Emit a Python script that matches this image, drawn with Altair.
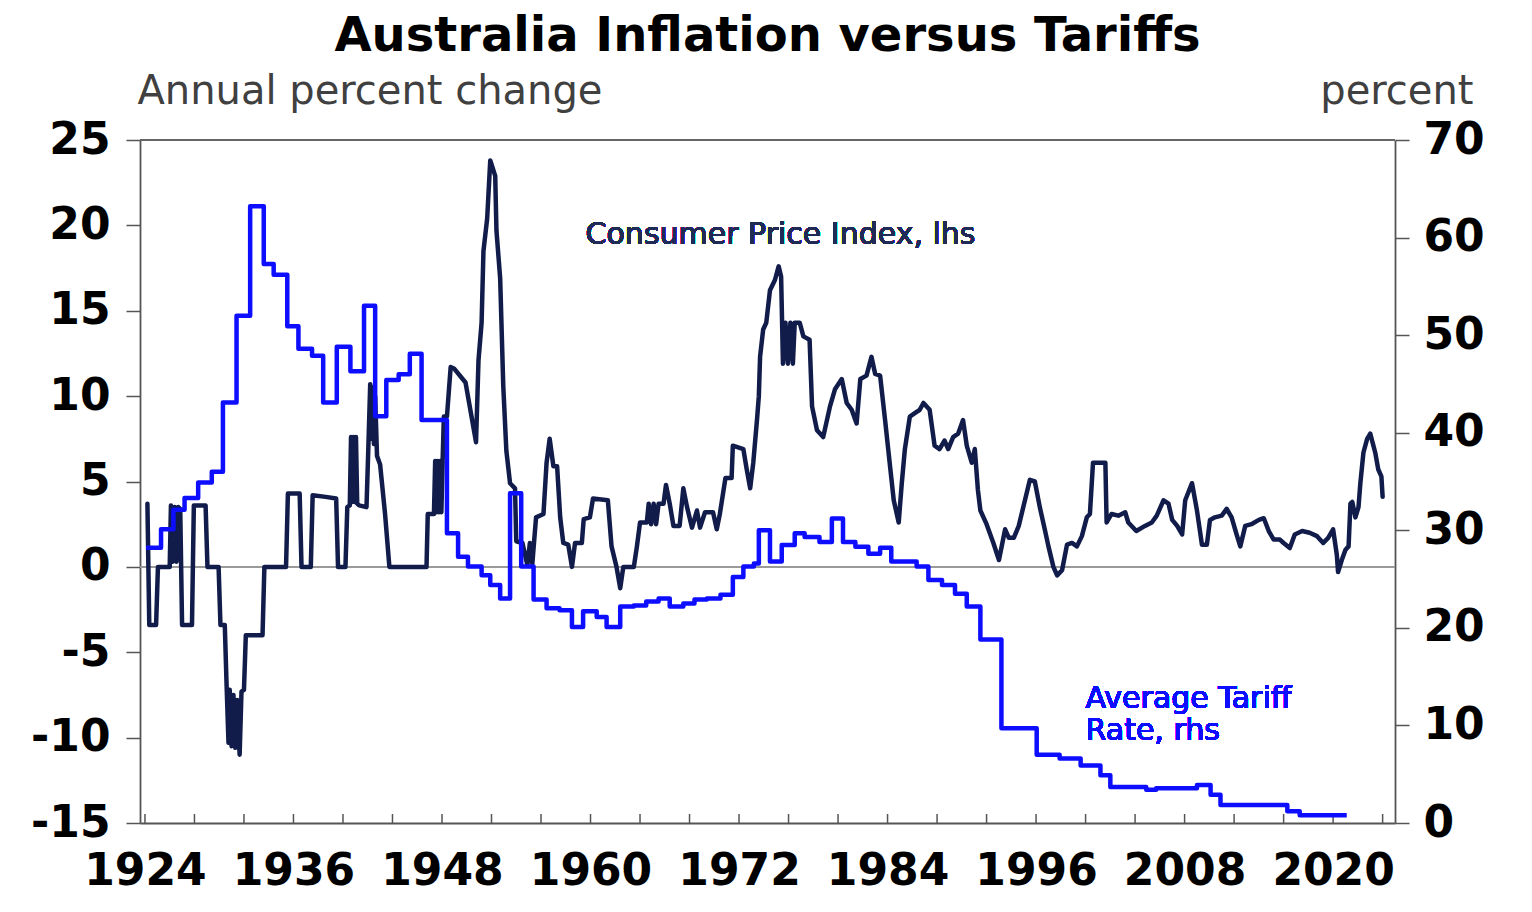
import altair as alt
import pandas as pd

# ---------------- data ----------------
cpi_years = [
    1924.2, 1924.35, 1924.9, 1925.05, 1926.0, 1926.1, 1926.25, 1926.4, 1926.55, 1926.7,
    1926.85, 1927.0, 1927.8, 1927.95, 1928.9, 1929.05, 1929.95, 1930.1, 1930.45, 1930.6,
    1930.75, 1930.85, 1931.0, 1931.15, 1931.3, 1931.45, 1931.65, 1931.8, 1932.0, 1932.15,
    1933.5, 1933.65, 1935.4, 1935.55, 1936.5, 1936.65, 1937.4, 1937.55, 1938.6, 1939.45,
    1939.6, 1940.2, 1940.35, 1940.55, 1940.65, 1940.75, 1940.85, 1940.95, 1941.05, 1941.15,
    1941.3, 1941.9, 1942.05, 1942.2, 1942.3, 1942.4, 1942.5, 1942.6, 1942.75, 1943.0,
    1943.4, 1943.75, 1946.75, 1946.85, 1947.35, 1947.45, 1947.55, 1947.65, 1947.75, 1947.85,
    1947.95, 1948.05, 1948.15, 1948.4, 1948.7, 1949.0, 1949.9, 1950.75, 1950.95, 1951.2,
    1951.35, 1951.65, 1951.9, 1952.3, 1952.4, 1952.7, 1952.95, 1953.2, 1953.5, 1953.9,
    1954.0, 1954.5, 1954.9, 1955.1, 1955.3, 1955.6, 1956.2, 1956.45, 1956.7, 1957.0,
    1957.3, 1957.55, 1957.8, 1958.2, 1958.5, 1958.75, 1959.3, 1959.45, 1959.95, 1960.2,
    1961.4, 1961.7, 1962.1, 1962.4, 1962.65, 1963.5, 1963.75, 1964.0, 1964.55, 1964.7,
    1964.9, 1965.1, 1965.3, 1965.5, 1965.9, 1966.1, 1966.4, 1966.7, 1967.2, 1967.5,
    1967.8, 1968.2, 1968.6, 1968.85, 1969.25, 1969.9, 1970.2, 1970.45, 1970.9, 1971.4,
    1971.5, 1972.35, 1972.6, 1972.9, 1973.15, 1973.45, 1973.6, 1973.7, 1973.95, 1974.2,
    1974.5, 1974.9, 1975.2, 1975.4, 1975.55, 1975.75, 1975.95, 1976.15, 1976.35, 1976.5,
    1976.9, 1977.2, 1977.7, 1977.9, 1978.3, 1978.8, 1979.35, 1979.75, 1980.3, 1980.7,
    1981.1, 1981.5, 1981.8, 1982.3, 1982.7, 1983.0, 1983.4, 1983.8, 1984.2, 1984.5,
    1984.9, 1985.15, 1985.4, 1985.8, 1986.2, 1986.6, 1986.9, 1987.4, 1987.8, 1988.2,
    1988.6, 1988.9, 1989.3, 1989.7, 1990.1, 1990.4, 1990.8, 1991.05, 1991.3, 1991.5,
    1992.0, 1992.55, 1993.0, 1993.5, 1993.8, 1994.2, 1994.6, 1995.1, 1995.5, 1995.9,
    1996.3, 1996.7, 1997.0, 1997.4, 1997.7, 1998.1, 1998.5, 1998.9, 1999.3, 1999.7,
    2000.1, 2000.35, 2000.6, 2001.6, 2001.7, 2002.1, 2002.65, 2003.2, 2003.45, 2004.1,
    2004.8, 2005.35, 2005.75, 2006.3, 2006.7, 2007.0, 2007.4, 2007.8, 2008.05, 2008.6,
    2009.0, 2009.4, 2009.8, 2010.05, 2010.45, 2011.0, 2011.4, 2011.8, 2012.2, 2012.5,
    2012.9, 2013.4, 2014.0, 2014.4, 2014.8, 2015.2, 2015.7, 2016.0, 2016.5, 2016.9,
    2017.5, 2018.1, 2018.7, 2019.2, 2019.6, 2020.0, 2020.3, 2020.4, 2020.7, 2021.0,
    2021.25, 2021.4, 2021.55, 2021.8, 2022.05, 2022.2, 2022.45, 2022.75, 2023.0, 2023.4,
    2023.65, 2023.9, 2024.0,
]
cpi_values = [
    3.7, -3.4, -3.4, 0.0, 0.0, 3.6, 0.3, 3.5, 0.3, 3.5,
    3.4, -3.4, -3.4, 3.6, 3.6, 0.0, 0.0, -3.4, -3.4, -7.0,
    -10.3, -7.2, -10.5, -7.5, -10.6, -7.8, -11.0, -7.3, -7.2, -4.0,
    -4.0, 0.0, 0.0, 4.3, 4.3, 0.0, 0.0, 4.2, 4.1, 4.0,
    0.0, 0.0, 3.5, 3.6, 7.6, 3.8, 7.6, 3.8, 7.6, 3.7,
    3.6, 3.5, 7.0, 10.7, 7.5, 10.5, 7.2, 10.0, 6.5, 6.0,
    3.1, 0.0, 0.0, 3.1, 3.1, 6.2, 3.2, 6.2, 3.2, 6.2,
    3.2, 6.2, 8.8, 8.8, 11.7, 11.6, 10.8, 7.3, 12.1, 14.3,
    18.5, 20.4, 23.8, 22.9, 19.7, 16.9, 10.6, 6.8, 4.9, 4.6,
    1.5, 1.4, 0.1, 1.4, 0.2, 2.9, 3.1, 6.1, 7.5, 5.9,
    5.9, 2.9, 1.4, 1.3, 0.0, 1.4, 1.4, 2.8, 2.9, 4.0,
    3.9, 1.2, 0.0, -1.25, 0.0, 0.0, 1.2, 2.6, 2.6, 3.7,
    2.5, 3.7, 2.5, 3.7, 3.7, 4.8, 3.7, 2.4, 2.4, 4.6,
    3.5, 2.3, 3.3, 2.3, 3.2, 3.2, 2.2, 3.1, 5.2, 5.2,
    7.1, 6.9, 5.8, 4.6, 6.1, 8.6, 10.0, 12.3, 13.9, 14.3,
    16.2, 16.8, 17.6, 17.0, 11.9, 14.3, 11.9, 14.3, 11.9, 14.3,
    14.3, 13.5, 13.3, 9.4, 8.0, 7.6, 9.4, 10.4, 11.0, 9.6,
    9.2, 8.4, 11.0, 11.2, 12.3, 11.3, 11.2, 8.6, 5.9, 3.9,
    2.6, 4.9, 6.9, 8.8, 9.0, 9.2, 9.6, 9.2, 7.1, 6.9,
    7.4, 6.9, 7.6, 7.8, 8.6, 7.1, 6.1, 6.9, 4.5, 3.3,
    2.5, 1.4, 0.4, 2.2, 1.7, 1.7, 2.4, 3.9, 5.1, 5.0,
    3.5, 2.2, 1.2, 0.0, -0.5, -0.2, 1.3, 1.4, 1.2, 1.8,
    2.9, 3.1, 6.1, 6.1, 2.6, 3.1, 3.0, 3.2, 2.6, 2.1,
    2.4, 2.6, 3.0, 3.9, 3.7, 2.75, 2.4, 1.9, 3.9, 4.9,
    3.3, 1.3, 1.3, 2.75, 2.9, 3.0, 3.4, 2.9, 1.9, 1.2,
    2.4, 2.5, 2.75, 2.85, 2.1, 1.6, 1.6, 1.4, 1.1, 1.9,
    2.1, 2.0, 1.8, 1.4, 1.7, 2.2, 0.7, -0.3, 0.4, 1.0,
    1.2, 3.7, 3.8, 2.9, 3.5, 4.9, 6.7, 7.5, 7.8, 6.7,
    5.7, 5.3, 4.1,
]

tariff_years = [
    1924.1, 1925.3, 1926.3, 1927.2, 1928.3, 1929.4, 1930.3, 1931.4, 1932.5, 1933.6,
    1934.4, 1935.5, 1936.4, 1937.5, 1938.4, 1939.5, 1940.6, 1941.7, 1942.6, 1943.5,
    1944.5, 1945.4, 1946.35, 1948.4, 1949.3, 1950.1, 1951.2, 1951.9, 1952.7, 1953.5,
    1954.4, 1955.4, 1956.45, 1957.5, 1958.5, 1959.4, 1960.5, 1961.3, 1962.4, 1963.5,
    1964.5, 1965.5, 1966.4, 1967.5, 1968.4, 1969.4, 1970.5, 1971.5, 1972.35, 1973.2,
    1973.6, 1974.5, 1975.45, 1976.5, 1977.3, 1978.5, 1979.5, 1980.4, 1981.4, 1982.45,
    1983.4, 1984.3, 1986.35, 1987.3, 1988.4, 1989.45, 1990.4, 1991.5, 1993.2, 1996.05,
    1997.9, 1999.6, 2001.2, 2002.0, 2004.9, 2005.7, 2009.0, 2010.1, 2010.9, 2016.3,
    2017.3, 2021.1,
]
tariff_values = [
    28.2, 30.1, 32.1, 33.3, 34.9, 36.0, 43.1, 52.0, 63.2, 57.3,
    56.2, 50.9, 48.6, 47.9, 43.1, 48.8, 46.3, 53.0, 41.7, 45.4,
    46.0, 48.1, 41.3, 29.7, 27.3, 26.3, 25.4, 24.4, 23.0, 33.8,
    26.3, 22.9, 22.0, 21.8, 20.1, 21.7, 21.1, 20.1, 22.2, 22.3,
    22.7, 23.0, 22.2, 22.5, 22.9, 23.0, 23.4, 25.2, 26.3, 26.6,
    30.0, 26.8, 28.5, 29.7, 29.3, 28.8, 31.2, 28.8, 28.3, 27.6,
    28.2, 26.8, 26.3, 24.9, 24.4, 23.5, 22.2, 18.8, 9.7, 7.0,
    6.6, 5.9, 4.9, 3.7, 3.4, 3.55, 3.9, 2.9, 1.85, 1.2,
    0.8, 0.8,
]

x_label_years = [1924, 1936, 1948, 1960, 1972, 1984, 1996, 2008, 2020]
x_minor_tick_years = list(range(1924, 2025, 4))
lhs_ticks = [-15, -10, -5, 0, 5, 10, 15, 20, 25]
rhs_ticks = [0, 10, 20, 30, 40, 50, 60, 70]

label_texts = ["Consumer Price Index, lhs", "Average Tariff\nRate, rhs"]
label_years = [1959.6, 2000.0]
label_values = [18.9, 11.8]

# ---------------- styling ----------------
NAVY = "#111c4b"
BLUE = "#0d0dff"
AXIS_GREY = "#555555"
W, H = 1255, 683
BOLD_FONT = "DejaVu Sans"
REG_FONT = "DejaVu Sans"
HYPHEN_LABEL = "datum.value < 0 ? '-' + abs(datum.value) : '' + datum.value"

cpi_df = pd.DataFrame({"year": cpi_years, "cpi": cpi_values})
tariff_df = pd.DataFrame({"year": tariff_years, "tariff": tariff_values})
tick_df = pd.DataFrame({"year": x_minor_tick_years})

x_scale = alt.Scale(domain=[1923.6, 2025.0], nice=False, zero=False)
x_enc = alt.X(
    "year:Q",
    scale=x_scale,
    axis=alt.Axis(
        values=x_label_years, format="d", title=None, grid=False,
        labelFont=BOLD_FONT, labelFontSize=44, labelFontWeight="bold",
        labelColor="black", labelPadding=26, tickSize=0, labelFlush=False,
        labelOverlap=False, domainColor=AXIS_GREY, domainWidth=1.8,
    ),
)

cpi_line = alt.Chart(cpi_df).mark_line(
    color=NAVY, strokeWidth=4.5, strokeJoin="round", strokeCap="round"
).encode(
    x=x_enc,
    y=alt.Y(
        "cpi:Q",
        scale=alt.Scale(domain=[-15, 25], nice=False, zero=False),
        axis=alt.Axis(
            orient="left", values=lhs_ticks, grid=False, labelExpr=HYPHEN_LABEL,
            title="Annual percent change", titleAngle=0, titleAlign="left",
            titleBaseline="alphabetic", titleX=-3, titleY=-37,
            titleFont=REG_FONT, titleFontSize=40, titleFontWeight="normal",
            titleColor="#404040",
            labelFont=BOLD_FONT, labelFontSize=44, labelFontWeight="bold",
            labelColor="black", labelPadding=16, tickSize=14,
            tickColor=AXIS_GREY, tickWidth=1.5,
            domainColor=AXIS_GREY, domainWidth=1.8,
        ),
    ),
)

zero_rule = alt.Chart(cpi_df).mark_rule(color="#9a9a9a", strokeWidth=1.3).encode(
    y=alt.datum(0)
)

top_border = alt.Chart(cpi_df).mark_rule(color="#666666", strokeWidth=2).encode(
    y=alt.datum(25)
)

minor_ticks = alt.Chart(tick_df).mark_rule(color=AXIS_GREY, strokeWidth=1.5).encode(
    x=alt.X("year:Q", scale=x_scale),
    y=alt.value(H),
    y2=alt.value(H - 9),
)

cpi_label = alt.Chart(cpi_df).mark_text(
    text=label_texts[0], align="left", baseline="alphabetic",
    font=REG_FONT, fontSize=30, color="#1f2a57",
).encode(x=alt.datum(label_years[0]), y=alt.datum(label_values[0]))

left = alt.layer(zero_rule, top_border, minor_ticks, cpi_line, cpi_label)

tariff_line = alt.Chart(tariff_df).mark_line(
    color=BLUE, strokeWidth=4.5, interpolate="step-after", strokeJoin="round"
).encode(
    x=alt.X("year:Q", scale=x_scale),
    y=alt.Y(
        "tariff:Q",
        scale=alt.Scale(domain=[0, 70], nice=False, zero=False),
        axis=alt.Axis(
            orient="right", values=rhs_ticks, grid=False,
            title="percent", titleAngle=0, titleAlign="right",
            titleBaseline="alphabetic", titleX=78, titleY=-37,
            titleFont=REG_FONT, titleFontSize=40, titleFontWeight="normal",
            titleColor="#404040",
            labelFont=BOLD_FONT, labelFontSize=44, labelFontWeight="bold",
            labelColor="black", labelPadding=14, tickSize=14,
            tickColor=AXIS_GREY, tickWidth=1.5,
            domainColor=AXIS_GREY, domainWidth=1.8,
        ),
    ),
)

tariff_label = alt.Chart(tariff_df).mark_text(
    text=label_texts[1], lineBreak="\n", lineHeight=32, align="left",
    baseline="alphabetic", font=REG_FONT, fontSize=30, color=BLUE,
).encode(x=alt.datum(label_years[1]), y=alt.datum(label_values[1]))

right = alt.layer(tariff_line, tariff_label)

chart = (
    alt.layer(left, right)
    .resolve_scale(y="independent")
    .properties(
        width=W,
        height=H,
        autosize=alt.AutoSizeParams(type="none"),
        padding={"left": 132, "top": 132, "right": 129, "bottom": 81},
        title=alt.TitleParams(
            "Australia Inflation versus Tariffs",
            font=BOLD_FONT, fontSize=48, fontWeight="bold", color="black",
            anchor="middle", offset=10, limit=1500,
        ),
    )
    .configure_view(stroke="#666666", strokeWidth=1.5)
    .configure(background="white")
)

chart.save("out.html", embed_options={"renderer": "svg", "actions": False})
